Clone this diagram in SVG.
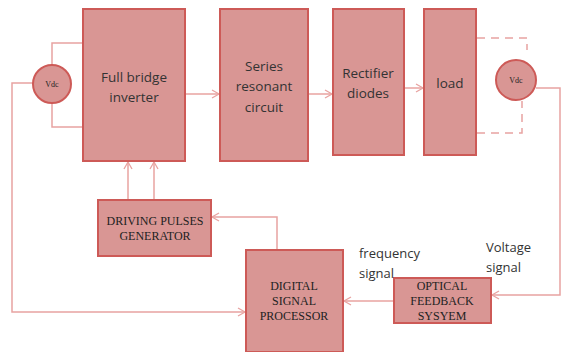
<svg xmlns="http://www.w3.org/2000/svg" width="561" height="352" viewBox="0 0 561 352">
<defs>
<style>
.box{fill:#d99694;stroke:#cd5a57;stroke-width:2}
.ln{fill:none;stroke:#e8a3a1;stroke-width:1.5}
.dash{fill:none;stroke:#e8a3a1;stroke-width:1.5;stroke-dasharray:8 6}
.t{font-family:"Open Sans","Liberation Sans",sans-serif;font-size:13.5px;fill:#333;text-anchor:middle}
.s{font-family:"Liberation Serif",serif;font-size:12px;fill:#222;text-anchor:middle}
.v{font-family:"Liberation Serif",serif;font-size:8px;fill:#222;text-anchor:middle}
.lab{font-family:"Open Sans","Liberation Sans",sans-serif;font-size:13px;fill:#333}
</style>
<marker id="ar" markerWidth="10" markerHeight="10" refX="8" refY="5" orient="auto" markerUnits="userSpaceOnUse">
<path d="M1,1 L8,5 L1,9" fill="none" stroke="#e8a3a1" stroke-width="1.3"/>
</marker>
</defs>
<g id="connectors">
<path class="ln" d="M52,65 V43 H83"/>
<path class="ln" d="M52,103 V127 H83"/>
<path class="ln" d="M33,83 H12 V312 H245" marker-end="url(#ar)"/>
<path class="ln" d="M185,94 H219" marker-end="url(#ar)"/>
<path class="ln" d="M308,94 H332" marker-end="url(#ar)"/>
<path class="ln" d="M404,88 H423" marker-end="url(#ar)"/>
<path class="dash" d="M477,38 H527 V50"/>
<path class="dash" d="M477,133 H522 V101"/>
<path class="ln" d="M536,88 H560 V295 H492" marker-end="url(#ar)"/>
<path class="ln" d="M128,200 V162" marker-end="url(#ar)"/>
<path class="ln" d="M154,200 V162" marker-end="url(#ar)"/>
<path class="ln" d="M277,250 V217 H212" marker-end="url(#ar)"/>
<path class="ln" d="M394,301 H344" marker-end="url(#ar)"/>
</g>
<g id="vdc-left">
<circle class="box" cx="52" cy="84" r="19"/>
<text class="v" x="52" y="87">Vdc</text>
</g>
<g id="inverter">
<rect class="box" x="83" y="9" width="102" height="152"/>
<text class="t" x="134" y="82">Full bridge</text>
<text class="t" x="134" y="102">inverter</text>
</g>
<g id="series">
<rect class="box" x="220" y="9" width="88" height="152"/>
<text class="t" x="264" y="71">Series</text>
<text class="t" x="264" y="91">resonant</text>
<text class="t" x="264" y="112">circuit</text>
</g>
<g id="rectifier">
<rect class="box" x="333" y="9" width="71" height="146"/>
<text class="t" x="368" y="78">Rectifier</text>
<text class="t" x="368" y="98">diodes</text>
</g>
<g id="load">
<rect class="box" x="424" y="9" width="52" height="146"/>
<text class="t" x="450" y="88">load</text>
</g>
<g id="vdc-right">
<circle class="box" cx="516" cy="80" r="20"/>
<text class="v" x="516" y="83">Vdc</text>
</g>
<g id="dpg">
<rect class="box" x="98" y="200" width="113" height="56"/>
<text class="s" x="155" y="225">DRIVING PULSES</text>
<text class="s" x="155" y="240">GENERATOR</text>
</g>
<g id="dsp">
<rect class="box" x="246" y="250" width="97" height="102"/>
<text class="s" x="294" y="290">DIGITAL</text>
<text class="s" x="294" y="305">SIGNAL</text>
<text class="s" x="294" y="320">PROCESSOR</text>
</g>
<g id="optical">
<rect class="box" x="394" y="278" width="97" height="45"/>
<text class="s" x="442" y="290">OPTICAL</text>
<text class="s" x="442" y="305">FEEDBACK</text>
<text class="s" x="442" y="320">SYSYEM</text>
</g>
<g id="labels">
<text class="lab" x="359" y="258">frequency</text>
<text class="lab" x="359" y="278">signal</text>
<text class="lab" x="486" y="252">Voltage</text>
<text class="lab" x="486" y="272">signal</text>
</g>
</svg>
